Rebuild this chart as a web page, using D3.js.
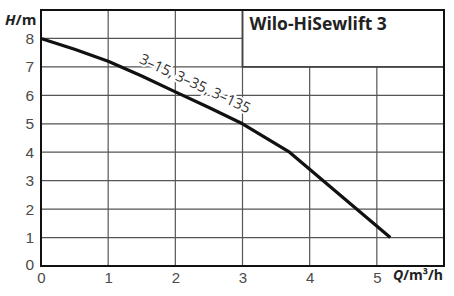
<!DOCTYPE html>
<html>
<head>
<meta charset="utf-8">
<script src="https://cdn.jsdelivr.net/npm/d3@7"></script>
<style>
  body { margin: 0; background: #fff; }
  svg { display: block; font-family: "Open Sans", sans-serif; }
  .grid line { stroke: #555; stroke-width: 1.2; }
  .tick text { fill: #4a4a4a; font-size: 15px; }
</style>
</head>
<body>
<div id="chart"></div>
<script>
const flow = [0, 0.5, 1, 1.5, 2, 2.5, 3, 3.7, 5.2];
const head = [8, 7.62, 7.2, 6.68, 6.12, 5.57, 5.0, 4.0, 1.0];
const xTicks = [0, 1, 2, 3, 4, 5];
const yTicks = [0, 1, 2, 3, 4, 5, 6, 7, 8];
const title = "Wilo-HiSewlift 3";
const curveLabel = "3–15, 3–35, 3–135";

const width = 454;
const height = 296;
const margin = { top: 10, right: 10, bottom: 30, left: 41 };

const x = d3.scaleLinear().domain([0, 6]).range([margin.left, width - margin.right]);
const y = d3.scaleLinear().domain([0, 9]).range([height - margin.bottom, margin.top]);

const svg = d3.select("#chart").append("svg")
    .attr("width", width)
    .attr("height", height);

// grid, leaving the title box empty
const grid = svg.append("g").attr("class", "grid");

grid.selectAll("line.h")
    .data(yTicks.filter(d => d > 0))
    .enter().append("line")
    .attr("class", "h")
    .attr("x1", x(0))
    .attr("x2", d => d > 7 ? x(3) : x(6))
    .attr("y1", d => y(d))
    .attr("y2", d => y(d));

grid.selectAll("line.v")
    .data(xTicks.filter(d => d > 0))
    .enter().append("line")
    .attr("class", "v")
    .attr("x1", d => x(d))
    .attr("x2", d => x(d))
    .attr("y1", y(0))
    .attr("y2", d => d > 3 ? y(7) : y(9));

// title box edges
svg.append("path")
    .attr("d", `M${x(3)},${y(9)} V${y(7)} H${x(6)}`)
    .attr("fill", "none")
    .attr("stroke", "#444")
    .attr("stroke-width", 1.8);

svg.append("text")
    .attr("x", x(3) + 7)
    .attr("y", y(9) + 20)
    .attr("font-size", 17.5)
    .attr("font-weight", "bold")
    .attr("fill", "#222")
    .text(title);

// curve label with white halo over the grid
svg.append("text")
    .attr("transform", `translate(${x(1.45)},${y(7.15)}) rotate(25)`)
    .attr("font-size", 14.6)
    .attr("fill", "#333")
    .attr("stroke", "#fff")
    .attr("stroke-width", 4)
    .attr("paint-order", "stroke")
    .text(curveLabel);

// curve
const line = d3.line()
    .x((d, i) => x(flow[i]))
    .y(d => y(d));

svg.append("path")
    .datum(head)
    .attr("d", line)
    .attr("fill", "none")
    .attr("stroke", "#111")
    .attr("stroke-width", 3.2)
    .attr("stroke-linejoin", "round");

// axes
svg.append("g")
    .attr("transform", `translate(0,${y(0)})`)
    .call(d3.axisBottom(x).tickValues(xTicks).tickFormat(d3.format("d")).tickSize(0).tickPadding(6))
    .call(g => g.select(".domain").remove())
    .call(g => g.selectAll("text").attr("font-size", null).attr("font-family", null));

svg.append("g")
    .attr("transform", `translate(${x(0)},0)`)
    .call(d3.axisLeft(y).tickValues(yTicks).tickFormat(d3.format("d")).tickSize(0).tickPadding(7))
    .call(g => g.select(".domain").remove())
    .call(g => g.selectAll("text").attr("font-size", null).attr("font-family", null)
        .style("font-size", "15.5px"))
    .call(g => g.selectAll(".tick").filter(d => d === 0).select("text").attr("dy", "0.2em"));

// frame
svg.append("rect")
    .attr("x", x(0))
    .attr("y", y(9))
    .attr("width", x(6) - x(0))
    .attr("height", y(0) - y(9))
    .attr("fill", "none")
    .attr("stroke", "#111")
    .attr("stroke-width", 2);

// axis titles
const hLabel = svg.append("text")
    .attr("x", 5)
    .attr("y", 25)
    .attr("font-size", 15)
    .attr("font-weight", "bold")
    .attr("fill", "#222");
hLabel.append("tspan").attr("font-style", "italic").text("H");
hLabel.append("tspan").text("/m");

const qLabel = svg.append("text")
    .attr("x", width - 11)
    .attr("y", 280)
    .attr("text-anchor", "end")
    .attr("font-size", 14)
    .attr("font-weight", "bold")
    .attr("fill", "#222");
qLabel.append("tspan").attr("font-style", "italic").text("Q");
qLabel.append("tspan").text("/m³/h");
</script>
</body>
</html>
